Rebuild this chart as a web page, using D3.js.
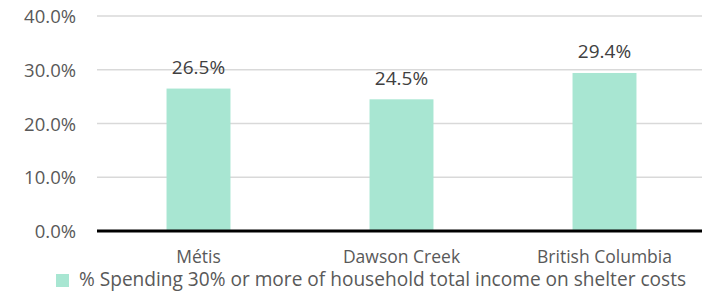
<!DOCTYPE html>
<html>
<head>
<meta charset="utf-8">
<script src="https://d3js.org/d3.v7.min.js"></script>
<style>
	body { margin: 0; background: #fff; }
	text { font-family: "Open Sans", sans-serif; fill: #595959; }
</style>
</head>
<body>
<svg width="702" height="292"></svg>
<script>
var categories = ["Métis", "Dawson Creek", "British Columbia"];
var values = [26.5, 24.5, 29.4];
var yTicks = [0, 10, 20, 30, 40];
var seriesName = "% Spending 30% or more of household total income on shelter costs";

var svg = d3.select("svg");
var plotLeft = 97, plotRight = 702, plotTop = 16, plotBottom = 231;

var x = d3.scaleBand()
	.domain(categories)
	.range([plotLeft, plotLeft + 203 * 3])
	.paddingInner(0.685)
	.paddingOuter(0.3425);
var y = d3.scaleLinear().domain([0, 40]).range([plotBottom, plotTop]);

// gridlines
svg.append("g").selectAll("line")
	.data(yTicks.slice(1))
	.enter().append("line")
	.attr("x1", plotLeft).attr("x2", plotRight)
	.attr("y1", function(d) { return y(d); })
	.attr("y2", function(d) { return y(d); })
	.attr("stroke", "#d9d9d9").attr("stroke-width", 1.5);

// y labels
svg.append("g").selectAll("text")
	.data(yTicks)
	.enter().append("text")
	.attr("x", 76).attr("y", function(d) { return y(d) + 7; })
	.attr("text-anchor", "end")
	.style("font-size", "18.5px")
	.text(function(d) { return d.toFixed(1) + "%"; });

// bars
svg.append("g").selectAll("rect")
	.data(values)
	.enter().append("rect")
	.attr("x", function(d, i) { return x(categories[i]); })
	.attr("width", x.bandwidth())
	.attr("y", function(d) { return y(d); })
	.attr("height", function(d) { return y(0) - y(d); })
	.attr("fill", "#a8e6d2");

// value labels
svg.append("g").selectAll("text")
	.data(values)
	.enter().append("text")
	.attr("x", function(d, i) { return x(categories[i]) + x.bandwidth() / 2; })
	.attr("y", function(d) { return y(d) - 14.5; })
	.attr("text-anchor", "middle")
	.style("font-size", "19px")
	.style("fill", "#404040")
	.text(function(d) { return d.toFixed(1) + "%"; });

// baseline
svg.append("line")
	.attr("x1", plotLeft).attr("x2", plotRight)
	.attr("y1", y(0)).attr("y2", y(0))
	.attr("stroke", "#000").attr("stroke-width", 3);

// category labels
svg.append("g").selectAll("text")
	.data(categories)
	.enter().append("text")
	.attr("x", function(d) { return x(d) + x.bandwidth() / 2; })
	.attr("y", 263)
	.attr("text-anchor", "middle")
	.style("font-size", "17.5px")
	.text(function(d) { return d; });

// legend
var legend = svg.append("g");
legend.append("rect")
	.attr("x", 56).attr("y", 274).attr("width", 13).attr("height", 13)
	.attr("fill", "#a8e6d2");
legend.append("text")
	.attr("x", 79).attr("y", 286)
	.style("font-size", "19.1px")
	.text(seriesName);
</script>
</body>
</html>
